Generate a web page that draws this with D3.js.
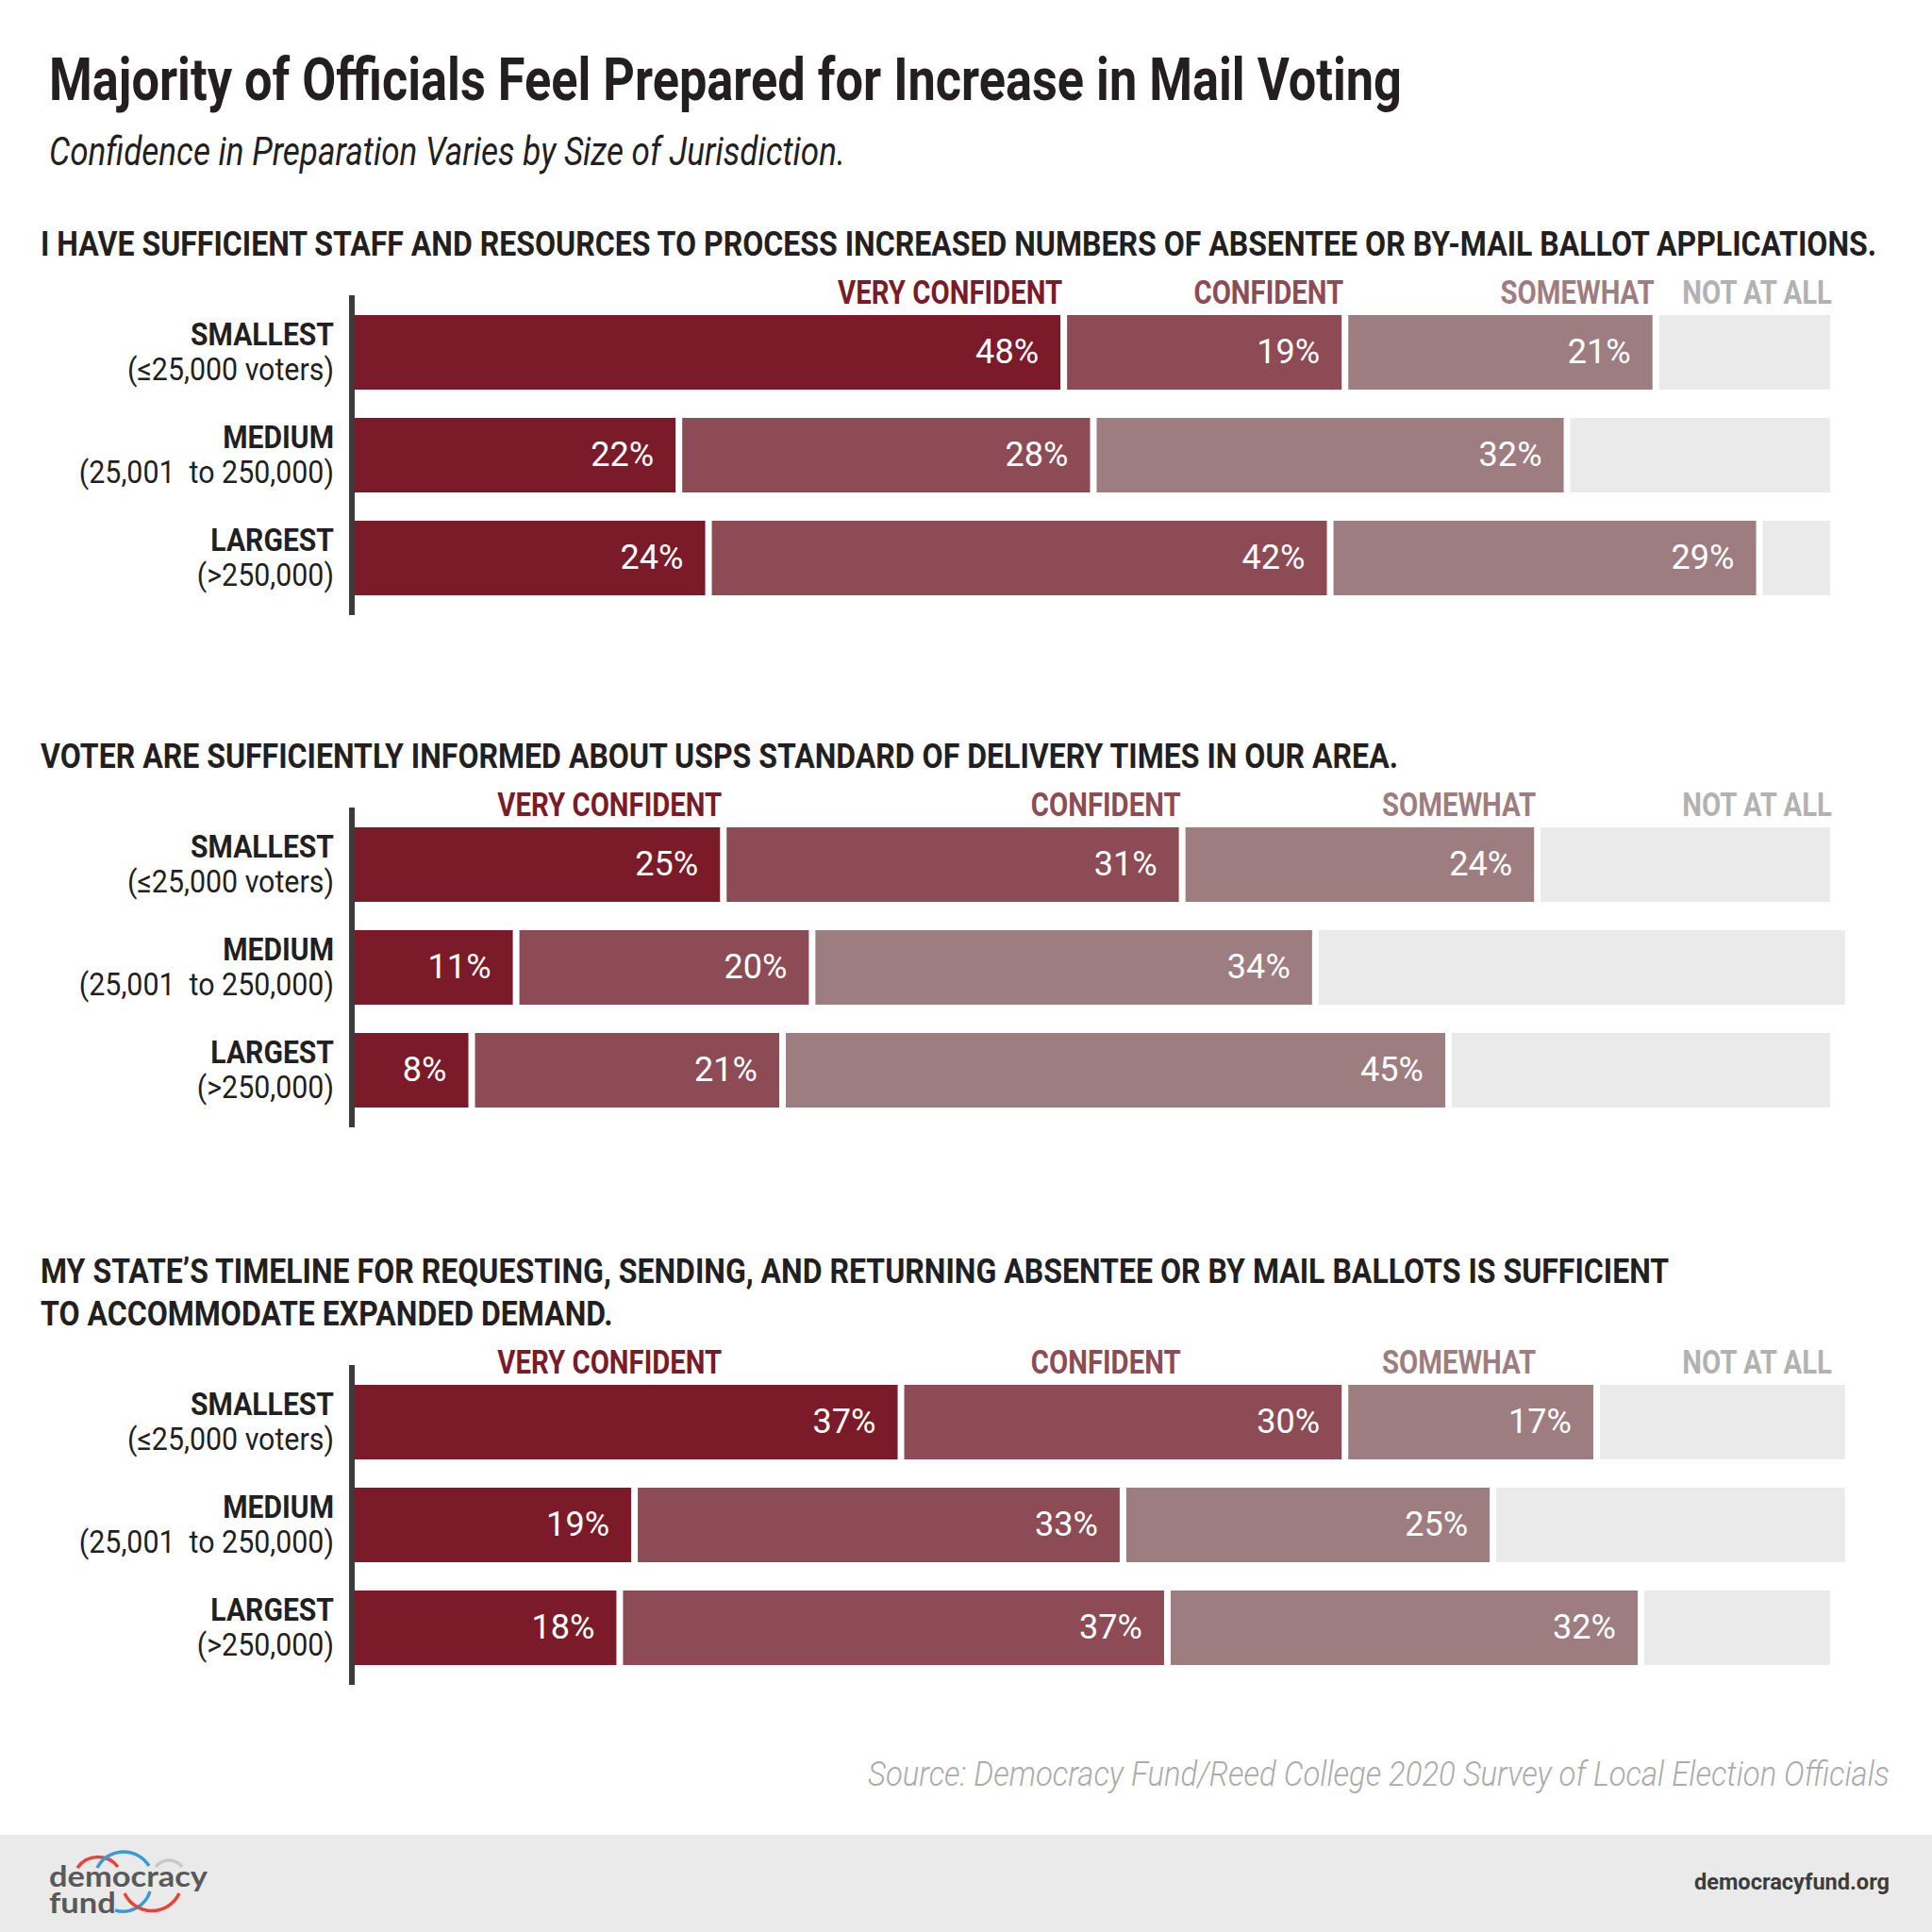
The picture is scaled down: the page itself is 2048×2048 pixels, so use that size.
<!DOCTYPE html>
<html><head><meta charset="utf-8">
<script src="https://cdn.jsdelivr.net/npm/d3@7"></script>
<style>
html,body{margin:0;padding:0;background:#fff;}
svg text{white-space:pre;}
</style>
</head><body>
<script>
// ---------------- DATA ----------------
const titleText = "Majority of Officials Feel Prepared for Increase in Mail Voting";
const subtitleText = "Confidence in Preparation Varies by Size of Jurisdiction.";
const categories = ["VERY CONFIDENT", "CONFIDENT", "SOMEWHAT", "NOT AT ALL"];
const sizeNames = ["SMALLEST", "MEDIUM", "LARGEST"];
const sizeRanges = ["(≤25,000 voters)", "(25,001  to 250,000)", "(>250,000)"];

const q1Heading = ["I HAVE SUFFICIENT STAFF AND RESOURCES TO PROCESS INCREASED NUMBERS OF ABSENTEE OR BY-MAIL BALLOT APPLICATIONS."];
const q1VeryConfident = [48, 22, 24];
const q1Confident     = [19, 28, 42];
const q1Somewhat      = [21, 32, 29];
const q1NotAtAll      = [12, 18, 5];

const q2Heading = ["VOTER ARE SUFFICIENTLY INFORMED ABOUT USPS STANDARD OF DELIVERY TIMES IN OUR AREA."];
const q2VeryConfident = [25, 11, 8];
const q2Confident     = [31, 20, 21];
const q2Somewhat      = [24, 34, 45];
const q2NotAtAll      = [20, 36, 26];

const q3Heading = ["MY STATE’S TIMELINE FOR REQUESTING, SENDING, AND RETURNING ABSENTEE OR BY MAIL BALLOTS IS SUFFICIENT",
                   "TO ACCOMMODATE EXPANDED DEMAND."];
const q3VeryConfident = [37, 19, 18];
const q3Confident     = [30, 33, 37];
const q3Somewhat      = [17, 25, 32];
const q3NotAtAll      = [17, 24, 13];

const sourceText = "Source: Democracy Fund/Reed College 2020 Survey of Local Election Officials";
const urlText = "democracyfund.org";
const logoWords = ["democracy", "fund"];

// ---------------- LAYOUT / STYLE ----------------
const W = 2048, H = 2048;
const colors = ["#7B1A28", "#8C4B55", "#9E7D81", "#EAEAEA"];
const legendColors = ["#7B1A28", "#8C4B55", "#9E7D81", "#B2B2B2"];
const ink = "#231F20";
const FONT = "Roboto, 'Liberation Sans', sans-serif";
const rowStart = [334, 877, 1468];
const legendRef = [0, 1, 1];

const panels = [
  {heading: q1Heading, series: [q1VeryConfident, q1Confident, q1Somewhat, q1NotAtAll]},
  {heading: q2Heading, series: [q2VeryConfident, q2Confident, q2Somewhat, q2NotAtAll]},
  {heading: q3Heading, series: [q3VeryConfident, q3Confident, q3Somewhat, q3NotAtAll]}
];

const svg = d3.select("body").append("svg")
  .attr("width", W).attr("height", H)
  .attr("viewBox", `0 0 ${W} ${H}`);
svg.append("rect").attr("width", W).attr("height", H).attr("fill", "#fff");

// helpers for condensed type
function natural(sel){ return sel.node().getComputedTextLength(); }
function setWidth(sel, w){ sel.attr("textLength", w).attr("lengthAdjust", "spacingAndGlyphs"); return sel; }
function styled(g, txt, o){
  return g.append("text").text(txt)
    .attr("font-family", o.family || FONT)
    .attr("font-size", o.size)
    .attr("font-weight", o.weight || 400)
    .attr("font-style", o.style || "normal")
    .attr("fill", o.fill || ink)
    .attr("x", o.x || 0).attr("y", o.y || 0);
}
function factorFor(o, txt, target){
  const t = styled(svg, txt, o);
  const f = target / natural(t);
  t.remove();
  return f;
}
function placeLeft(sel, x, f){ const w = natural(sel) * f; sel.attr("x", x); setWidth(sel, w); return sel; }
function placeRight(sel, right, f){ const w = natural(sel) * f; sel.attr("x", right - w); setWidth(sel, w); return sel; }

// ---------- Title & subtitle ----------
const sTitle = {size: 63, weight: 700};
placeLeft(styled(svg, titleText, {...sTitle, y: 106}), 52, factorFor(sTitle, titleText, 1434));
const sSub = {size: 42, weight: 400, style: "italic"};
placeLeft(styled(svg, subtitleText, {...sSub, y: 175}), 52, factorFor(sSub, subtitleText, 844));

// style factors
const sHead = {size: 36, weight: 700};
const fHead = factorFor(sHead, q1Heading[0], 1946);
const sLeg = {size: 35, weight: 700};
const fLeg = factorFor(sLeg, categories[0], 238);
const sRowB = {size: 34, weight: 700};
const fRowB = factorFor(sRowB, sizeNames[0], 152);
const sRowR = {size: 34, weight: 400};
const fRowR = factorFor(sRowR, sizeRanges[0], 219);
const sPct = {size: 36, weight: 400, fill: "#fff"};
const fPct = factorFor(sPct, "25%", 67);

// ---------- scales ----------
const x = d3.scaleLinear().domain([0, 100]).range([371, 1940]);
const GAP = 7;

const stacks = panels.map(p => {
  const table = sizeNames.map((name, i) => {
    const row = {size: name};
    categories.forEach((c, k) => row[c] = p.series[k][i]);
    return row;
  });
  return d3.stack().keys(categories)(table);
});

panels.forEach((p, pi) => {
  const g = svg.append("g");
  const top = rowStart[pi];
  const y = d3.scaleBand().domain(sizeNames)
    .range([top, top + 3 * 109 - 30])
    .paddingInner(30 / 109).paddingOuter(0);
  const bw = y.bandwidth();

  // heading
  const nLines = p.heading.length;
  p.heading.forEach((line, li) => {
    const yy = top - 63 - (nLines - 1 - li) * 45;
    placeLeft(styled(g, line, {...sHead, y: yy}), 43, fHead);
  });

  // bars
  const st = stacks[pi];
  st.forEach((layer, k) => {
    g.selectAll(null).data(layer).enter().append("rect")
      .attr("x", d => x(d[0]) + (k > 0 ? GAP : 0))
      .attr("y", d => y(d.data.size))
      .attr("width", d => x(d[1]) - x(d[0]) - (k > 0 ? GAP : 0))
      .attr("height", bw)
      .attr("fill", colors[k]);
  });
  // value labels
  st.forEach((layer, k) => {
    if (k === 3) return;
    layer.forEach(d => {
      const t = styled(g, (d[1] - d[0]) + "%", {...sPct, y: y(d.data.size) + 51});
      placeRight(t, x(d[1]) - 23, fPct);
    });
  });

  // legend
  const ref = stacks[legendRef[pi]];
  categories.forEach((c, k) => {
    const end = ref[k][0][1];
    const t = styled(g, c, {...sLeg, y: top - 12, fill: legendColors[k]});
    placeRight(t, x(end) + 2, fLeg);
  });

  // row labels
  sizeNames.forEach((name, i) => {
    const yy = y(name);
    placeRight(styled(g, name, {...sRowB, y: yy + 32}), 354, fRowB);
    placeRight(styled(g, sizeRanges[i], {...sRowR, y: yy + 69}), 354, fRowR);
  });

  // axis line
  g.append("rect").attr("x", 370).attr("width", 6)
    .attr("y", top - 21).attr("height", 3 * 109 - 30 + 42)
    .attr("fill", "#3B3B3B");
});

// ---------- source ----------
const sSrc = {size: 37, weight: 300, style: "italic", fill: "#ABABAB"};
placeRight(styled(svg, sourceText, {...sSrc, y: 1893}), 2003, factorFor(sSrc, sourceText, 1083));

// ---------- footer ----------
svg.append("rect").attr("x", 0).attr("y", 1945).attr("width", W).attr("height", H - 1945).attr("fill", "#EAEAEA");
const sUrl = {size: 24, weight: 700, fill: "#3C3C3C"};
placeRight(styled(svg, urlText, {...sUrl, y: 2003}), 2003, factorFor(sUrl, urlText, 207));

// logo
const logo = svg.append("g").attr("fill", "none").attr("stroke-width", 3.5);
logo.append("path").attr("d", "M82,1980 A26.5,26.5 0 0 1 125,1979").attr("stroke", "#E8433A");
logo.append("path").attr("d", "M103,1980 A31.6,31.6 0 0 1 158,1978").attr("stroke", "#3A9AD9");
logo.append("path").attr("d", "M165,1979 A17.5,17.5 0 0 1 193,1979").attr("stroke", "#C8C8C8");
logo.append("path").attr("d", "M122,2025 A30,30 0 0 0 159,2005").attr("stroke", "#3A9AD9");
logo.append("path").attr("d", "M132,2007 A32,32 0 0 0 190,2007").attr("stroke", "#E8433A");
const sLogo = {size: 30, weight: 700, fill: "#58595B", family: "Lato, 'Open Sans', sans-serif"};
const fLogo = factorFor(sLogo, logoWords[0], 168);
placeLeft(styled(svg, logoWords[0], {...sLogo, y: 2000}), 52, fLogo);
placeLeft(styled(svg, logoWords[1], {...sLogo, y: 2028}), 52, fLogo);
</script>
</body></html>
